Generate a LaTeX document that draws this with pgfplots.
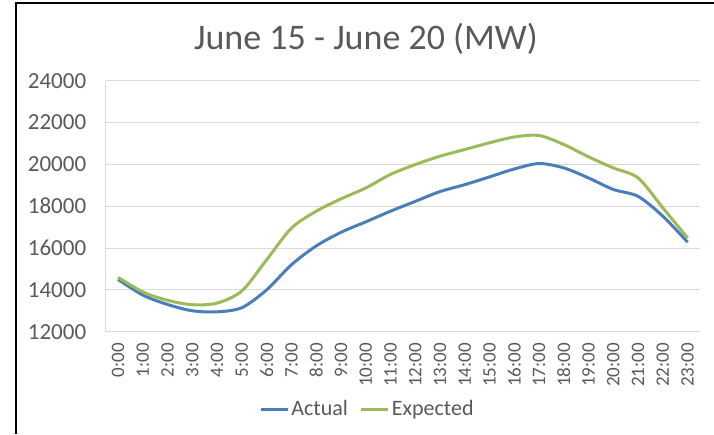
\documentclass[border=0pt]{standalone}
\usepackage{pgfplots}
\pgfplotsset{compat=1.18}
\usepackage{fontspec}
\setmainfont{Carlito}
\definecolor{txt}{HTML}{595959}
\definecolor{gridc}{HTML}{D9D9D9}
\definecolor{cact}{HTML}{4A7EBB}
\definecolor{cexp}{HTML}{9BBB59}
\pgfplotstableread{
h act exp
0 14500 14600
1 13750 13900
2 13300 13500
3 13000 13290
4 12950 13370
5 13150 13950
6 14000 15440
7 15200 16950
8 16100 17760
9 16750 18350
10 17250 18870
11 17760 19520
12 18230 19990
13 18700 20390
14 19030 20710
15 19400 21030
16 19780 21310
17 20040 21380
18 19830 20950
19 19350 20360
20 18800 19830
21 18470 19350
22 17520 17920
23 16280 16480
}\data
\begin{document}
\begin{tikzpicture}
\useasboundingbox (0,0) rectangle (714pt,434pt);
\draw[line width=2pt] (16pt,0) -- (16pt,430.5pt) -- (714pt,430.5pt);
\node[text=txt, font=\fontsize{36}{42}\selectfont] at (366pt,395pt) {June 15 - June 20 (MW)};
\begin{axis}[
  at={(105.7pt,102.3pt)}, anchor=south west,
  width=594.3pt, height=251pt, scale only axis,
  xmin=-0.5, xmax=23.5, ymin=12000, ymax=24000,
  ytick={12000,14000,...,24000},
  xtick={0,...,23},
  xticklabels={0:00,1:00,2:00,3:00,4:00,5:00,6:00,7:00,8:00,9:00,10:00,11:00,12:00,13:00,14:00,15:00,16:00,17:00,18:00,19:00,20:00,21:00,22:00,23:00},
  x tick label style={rotate=90, anchor=east, font=\fontsize{19}{22}\selectfont, text=txt},
  yticklabel style={anchor=east, font=\fontsize{23}{27}\selectfont, text=txt},
  yticklabel shift=16pt,
  /pgf/number format/assume math mode=true,
  /pgf/number format/1000 sep={},
  scaled y ticks=false,
  major tick length=0pt,
  xticklabel shift=8pt,
  xmajorgrids=false,
  ymajorgrids=true, grid style={draw=gridc, line width=1pt},
  axis x line*=bottom, axis y line*=left,
  axis line style={draw=gridc, line width=1pt, -},
  legend style={at={(0.4405,-0.308)}, anchor=center, draw=none, fill=none,
    font=\fontsize{22}{26}\selectfont, text=txt, legend columns=2,
    /tikz/every even column/.append style={column sep=10pt}},
  legend image code/.code={\draw[#1, line width=3pt] (0pt,0pt) -- (27pt,0pt);},
  clip=false,
]
\addplot[cact, line width=3pt, smooth, no markers] table[x=h, y=act] {\data};
\addlegendentry{Actual}
\addplot[cexp, line width=3pt, smooth, no markers] table[x=h, y=exp] {\data};
\addlegendentry{Expected}
\end{axis}
\end{tikzpicture}
\end{document}
